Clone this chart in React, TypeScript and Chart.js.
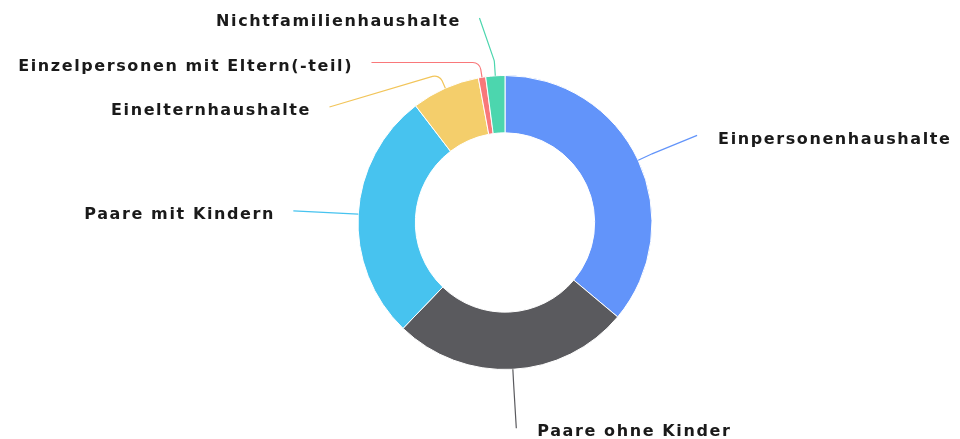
import React, { useEffect, useRef } from "react";
import { Chart, registerables } from "chart.js";

Chart.register(...registerables);

const categories = [
  "Einpersonenhaushalte",
  "Paare ohne Kinder",
  "Paare mit Kindern",
  "Einelternhaushalte",
  "Einzelpersonen mit Eltern(-teil)",
  "Nichtfamilienhaushalte",
];
const shares = [36.1, 26.1, 27.4, 7.5, 0.8, 2.1];
const sliceColors = ["#6294FA", "#5A5A5E", "#47C3EF", "#F4CE6B", "#F9787A", "#4CD6AE"];
const lineColors = ["#6294FA", "#5A5A5E", "#47C3EF", "#F2C55A", "#F9787A", "#4CD6AE"];

const FONT = 'bold 16px "DejaVu Sans", Verdana, sans-serif';
const SPACING = 1.6;

const outsideLabels = {
  id: "outsideLabels",
  afterDatasetsDraw(chart: any) {
    const ctx = chart.ctx;
    const meta = chart.getDatasetMeta(0);
    const items: any[] = [];
    meta.data.forEach((arc: any, i: number) => {
      const p = arc.getProps(["x", "y", "startAngle", "endAngle", "outerRadius"], true);
      const m = (p.startAngle + p.endAngle) / 2;
      const r = p.outerRadius;
      const a = r + 65;
      const b = r + 59;
      const cos = Math.cos(m);
      const sin = Math.sin(m);
      items.push({
        i,
        cx: p.x,
        cy: p.y,
        a,
        b,
        right: cos >= 0,
        p0: { x: p.x + r * cos, y: p.y + r * sin },
        p1: { x: p.x + (r + 15) * cos, y: p.y + (r + 15) * sin },
        ex: p.x + a * cos,
        ey0: p.y + b * sin,
      });
    });
    const topBound = 18;
    const gap = 44.5;
    [true, false].forEach((side) => {
      const list = items.filter((it) => it.right === side).sort((u, v) => u.ey0 - v.ey0);
      let prev = -Infinity;
      list.forEach((it) => {
        const y = Math.max(it.ey0, topBound, prev + gap);
        it.ey = y;
        if (Math.abs(y - it.ey0) > 0.01) {
          const dy = y - it.cy;
          const f = Math.sqrt(Math.max(0, 1 - (dy * dy) / (it.b * it.b)));
          it.ex = it.cx + (it.right ? 1 : -1) * it.a * f;
        }
        prev = y;
      });
    });
    ctx.save();
    items.forEach((it) => {
      ctx.strokeStyle = lineColors[it.i];
      ctx.lineWidth = 1.2;
      ctx.beginPath();
      ctx.moveTo(it.p0.x, it.p0.y);
      ctx.arcTo(it.p1.x, it.p1.y, it.ex, it.ey, 8);
      ctx.lineTo(it.ex, it.ey);
      ctx.stroke();
      ctx.font = FONT;
      (ctx as any).letterSpacing = SPACING + "px";
      ctx.fillStyle = "#1a1a1a";
      ctx.textBaseline = "middle";
      ctx.textAlign = it.right ? "left" : "right";
      const tx = it.right ? it.ex + 21 : it.ex - 20 + SPACING;
      ctx.fillText(categories[it.i], tx, it.ey + 4);
    });
    ctx.restore();
  },
};

export default function App() {
  const ref = useRef<HTMLCanvasElement>(null);
  useEffect(() => {
    document.body.style.margin = "0";
    const chart = new Chart(ref.current as HTMLCanvasElement, {
      type: "doughnut",
      data: {
        labels: categories,
        datasets: [
          {
            data: shares,
            backgroundColor: sliceColors,
            borderColor: "#ffffff",
            borderWidth: 1,
            hoverOffset: 0,
          },
        ],
      },
      options: {
        animation: false,
        responsive: false,
        cutout: "61%",
        layout: { padding: { left: 200, right: 150, top: 75, bottom: 69 } },
        plugins: {
          legend: { display: false },
          tooltip: { enabled: false },
        },
      },
      plugins: [outsideLabels],
    });
    return () => chart.destroy();
  }, []);
  return (
    <div style={{ width: 960, height: 439 }}>
      <canvas ref={ref} width={960} height={439} style={{ width: 960, height: 439, display: "block" }} />
    </div>
  );
}
